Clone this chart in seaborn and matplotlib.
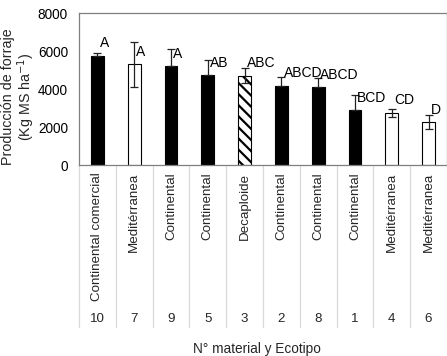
import numpy as np
import matplotlib
matplotlib.use("Agg")
import matplotlib.pyplot as plt
import matplotlib.transforms as mtransforms
import pandas as pd
import seaborn as sns

# Data
numeros = ["10", "7", "9", "5", "3", "2", "8", "1", "4", "6"]
ecotipos = ["Continental comercial", "Meditérranea", "Continental", "Continental",
            "Decaploide", "Continental", "Continental", "Continental",
            "Meditérranea", "Meditérranea"]
produccion = [5750, 5300, 5190, 4720, 4700, 4175, 4105, 2875, 2740, 2245]
error = [170, 1180, 910, 790, 410, 460, 470, 830, 210, 370]
letras = ["A", "A", "A", "AB", "ABC", "ABCD", "ABCD", "BCD", "CD", "D"]
relleno = ["black", "white", "black", "black", "white",
           "black", "black", "black", "white", "white"]

df = pd.DataFrame({"num": numeros, "prod": produccion})

sns.set_theme(style="white")
plt.rcParams["font.family"] = ["Liberation Sans", "DejaVu Sans"]
plt.rcParams["hatch.linewidth"] = 1.6

fig = plt.figure(figsize=(4.47, 3.56), dpi=100)
ax = fig.add_axes([79/447, 1-165/356, 1-79/447, 152/356])

sns.barplot(data=df, x="num", y="prod", hue="num", order=numeros, hue_order=numeros,
            palette=relleno, width=0.35, legend=False, ax=ax,
            edgecolor="black", linewidth=0.8)
for p, c in zip(ax.patches, ecotipos):
    if c == "Decaploide":
        p.set_hatch("\\\\\\")

# one-sided error bars on black bars, two-sided on white ones
low = [e if f == "white" else 0 for e, f in zip(error, relleno)]
x = np.arange(len(numeros))
ax.errorbar(x, produccion, yerr=[low, error], fmt="none", ecolor="#222222",
            elinewidth=0.9, capsize=2.6, capthick=0.9)

for i, (v, l) in enumerate(zip(produccion, letras)):
    ax.annotate(l, (i, v), xytext=(1.5, 9), textcoords="offset points",
                ha="left", va="center", fontsize=10, color="black")

ax.set_ylim(0, 8000)
ax.set_yticks([0, 2000, 4000, 6000, 8000])
ax.set_xlim(-0.5, len(numeros) - 0.5)
ax.tick_params(axis="y", length=0, pad=8, labelsize=9.8, colors="black")
ax.set_xticks([])
ax.set_xlabel("")
ax.set_ylabel("")
for s in ["left", "bottom", "top", "right"]:
    ax.spines[s].set_color("#7f7f7f")
    ax.spines[s].set_linewidth(0.9)

# category axis (Excel style, two levels)
trans = mtransforms.blended_transform_factory(ax.transData, ax.transAxes)
for b in np.arange(len(numeros) + 1) - 0.5:
    ax.plot([b, b], [0, -1.066], transform=trans, color="#d9d9d9", lw=0.9, clip_on=False)
for i, (e, n) in enumerate(zip(ecotipos, numeros)):
    ax.text(i, -0.05, e, transform=trans, rotation=90, ha="center", va="top", fontsize=9.6)
    ax.text(i, -1.013, n, transform=trans, ha="center", va="center", fontsize=9.6)

fig.text(257/447, 1-349/356, "N° material y Ecotipo", ha="center", va="center", fontsize=9.8)
fig.text(19/447, 1-97/356, "Producción de forraje\n(Kg MS ha$^{-1}$)", rotation=90,
         ha="center", va="center", fontsize=10.3, linespacing=1.0)

fig.savefig("out.png", dpi=100)
